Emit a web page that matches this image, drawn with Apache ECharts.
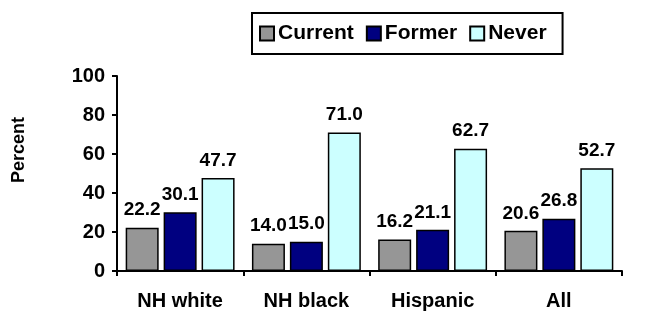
<!DOCTYPE html>
<html>
<head>
<meta charset="utf-8">
<script src="https://cdn.jsdelivr.net/npm/echarts@6/dist/echarts.min.js"></script>
<style>
  html, body { margin: 0; padding: 0; background: #fff; }
  #chart { width: 654px; height: 314px; }
</style>
</head>
<body>
<div id="chart"></div>
<script>
var categories = ["NH white", "NH black", "Hispanic", "All"];
var current = [22.2, 14.0, 16.2, 20.6];
var former = [30.1, 15.0, 21.1, 26.8];
var never = [47.7, 71.0, 62.7, 52.7];
var yTicks = [0, 20, 40, 60, 80, 100];

var font = "Liberation Sans, Arial, sans-serif";
var myChart = echarts.init(document.getElementById("chart"));

function barSeries(name, data, color) {
  return {
    name: name,
    type: "bar",
    data: data,
    barWidth: 33,
    barGap: "15%",
    itemStyle: { color: color, borderColor: "#000", borderWidth: 1.5 },
    label: {
      show: true,
      position: "top",
      distance: 8,
      color: "#000",
      fontFamily: font,
      fontWeight: "bold",
      fontSize: 19,
      formatter: function (p) { return p.value.toFixed(1); }
    }
  };
}

myChart.setOption({
  animation: false,
  backgroundColor: "#fff",
  grid: { left: 117, right: 32, top: 76, bottom: 43 },
  legend: {
    left: 252,
    top: 13,
    padding: [10, 16, 10, 7],
    borderColor: "#000",
    borderWidth: 2,
    itemWidth: 14,
    itemHeight: 14,
    itemGap: 12,
    icon: "rect",
    textStyle: { color: "#000", fontFamily: font, fontWeight: "bold", fontSize: 21, padding: [0, 0, 0, -1] },
    data: ["Current", "Former", "Never"]
  },
  graphic: [{
    type: "text",
    x: 19,
    y: 150,
    rotation: Math.PI / 2,
    style: {
      text: "Percent",
      fill: "#000",
      font: "bold 18px " + font,
      align: "center",
      verticalAlign: "middle"
    }
  }],
  xAxis: {
    type: "category",
    data: categories,
    axisLine: { lineStyle: { color: "#000", width: 2 } },
    axisTick: { show: true, length: 5, lineStyle: { color: "#000", width: 2 } },
    axisLabel: { color: "#000", fontFamily: font, fontWeight: "bold", fontSize: 20, margin: 20 }
  },
  yAxis: {
    type: "value",
    min: yTicks[0],
    max: yTicks[yTicks.length - 1],
    interval: 20,
    axisLine: { show: true, lineStyle: { color: "#000", width: 2 } },
    axisTick: { show: true, length: 5, lineStyle: { color: "#000", width: 2 } },
    splitLine: { show: false },
    axisLabel: { color: "#000", fontFamily: font, fontWeight: "bold", fontSize: 20, margin: 12 }
  },
  series: [
    barSeries("Current", current, "#969696"),
    barSeries("Former", former, "#000080"),
    barSeries("Never", never, "#CCFFFF")
  ]
});
</script>
</body>
</html>
